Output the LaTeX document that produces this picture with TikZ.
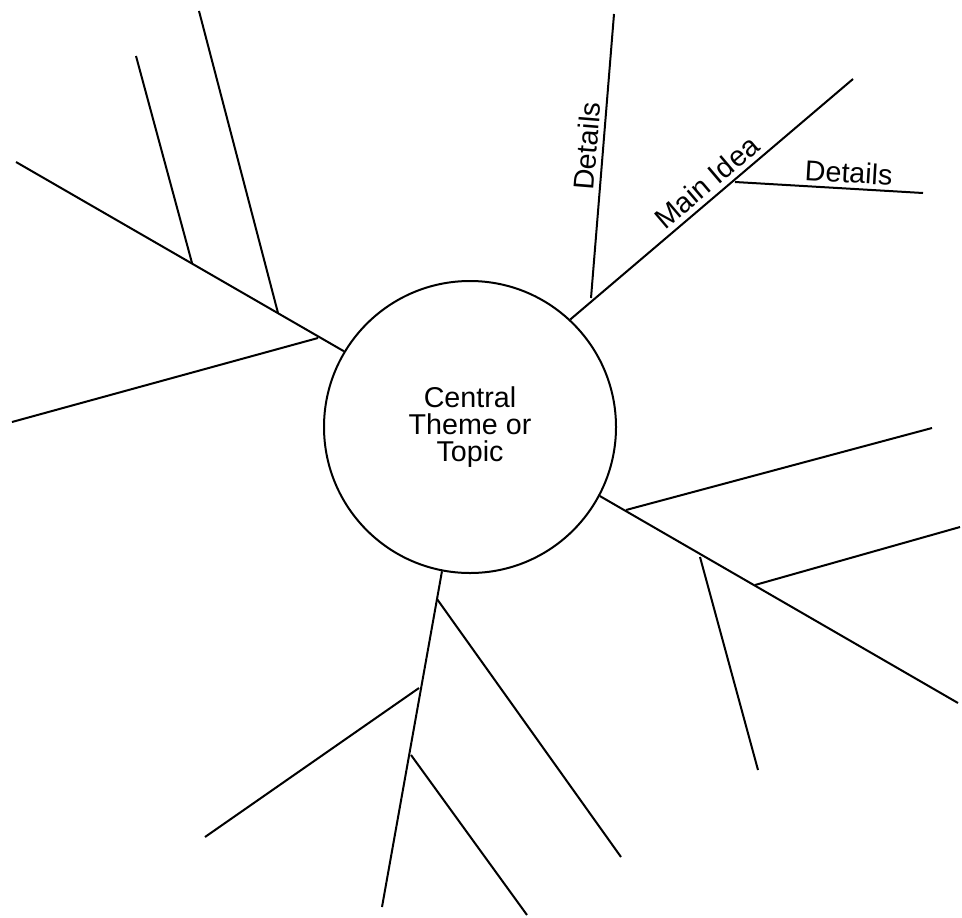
\documentclass[tikz,border=0pt]{standalone}
\usepackage{fontspec}
\setmainfont{Liberation Sans}
\usetikzlibrary{positioning}

\begin{document}
\begin{tikzpicture}[x=0.75pt, y=-0.75pt, every node/.style={font=\fontsize{21.5}{20.5}\selectfont, align=center}, hub/.style={circle, draw, line width=1.5pt, minimum size=219pt, inner sep=0pt}, branch/.style={line width=1.5pt}, tag/.style={sloped, above, inner sep=3.5pt}]
        \useasboundingbox (0,0) rectangle (962,917);
        \node[hub] (topic) at (470,427) {Central\\Theme or\\Topic};
        \coordinate (ulEnd) at (16,162);
        \coordinate (ulA) at (318,338);
        \coordinate (ulAEnd) at (12,422);
        \coordinate (ulB) at (278,313);
        \coordinate (ulBEnd) at (199,11);
        \coordinate (ulC) at (192,263);
        \coordinate (ulCEnd) at (136,56);
        \coordinate (urEnd) at (853,79);
        \coordinate (urA) at (591,298);
        \coordinate (urAEnd) at (614,14);
        \coordinate (urB) at (735,182);
        \coordinate (urBEnd) at (923,193);
        \coordinate (lrEnd) at (958,703);
        \coordinate (lrA) at (626,510);
        \coordinate (lrAEnd) at (932,428);
        \coordinate (lrB) at (700,557);
        \coordinate (lrBEnd) at (758,770);
        \coordinate (lrC) at (755,585);
        \coordinate (lrCEnd) at (960,527);
        \coordinate (btEnd) at (382,907);
        \coordinate (btA) at (437,599);
        \coordinate (btAEnd) at (621,857);
        \coordinate (btB) at (419,688);
        \coordinate (btBEnd) at (205,837);
        \coordinate (btC) at (411,755);
        \coordinate (btCEnd) at (527,915);
        \draw[branch] (topic.149) -- (ulEnd);
        \draw[branch] (ulA) -- (ulAEnd);
        \draw[branch] (ulB) -- (ulBEnd);
        \draw[branch] (ulC) -- (ulCEnd);
        \draw[branch] (topic.47.5) -- node[tag, pos=0.52] {Main Idea} (urEnd);
        \draw[branch] (urA) -- node[tag, pos=0.53] {Details} (urAEnd);
        \draw[branch] (urB) -- node[tag, pos=0.6] {Details} (urBEnd);
        \draw[branch] (topic.-28.3) -- (lrEnd);
        \draw[branch] (lrA) -- (lrAEnd);
        \draw[branch] (lrB) -- (lrBEnd);
        \draw[branch] (lrC) -- (lrCEnd);
        \draw[branch] (topic.-101.8) -- (btEnd);
        \draw[branch] (btA) -- (btAEnd);
        \draw[branch] (btB) -- (btBEnd);
        \draw[branch] (btC) -- (btCEnd);
    \end{tikzpicture}
\end{document}
